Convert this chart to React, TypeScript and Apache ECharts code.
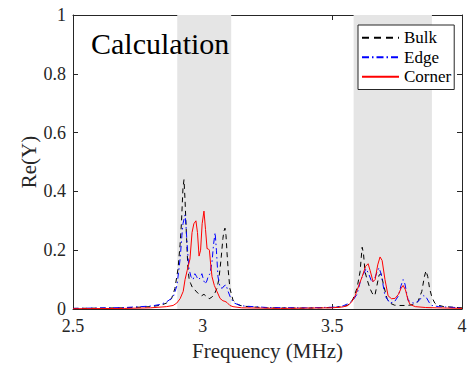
import React, { useEffect, useRef } from "react";
import * as echarts from "echarts";

const FONT = "'Liberation Serif', 'Times New Roman', serif";

const xTicks = [2.5, 3, 3.5, 4];
const bands = [
  [2.902, 3.11],
  [3.582, 3.884],
];

const bulkFreq = [2.5, 2.7, 2.8, 2.84, 2.86, 2.88, 2.893, 2.905, 2.913, 2.918, 2.924, 2.928, 2.932, 2.938, 2.943, 2.948, 2.954, 2.962, 2.97, 2.977, 2.986, 2.996, 3.005, 3.015, 3.025, 3.035, 3.045, 3.055, 3.062, 3.067, 3.072, 3.078, 3.082, 3.086, 3.09, 3.094, 3.098, 3.105, 3.117, 3.13, 3.144, 3.175, 3.25, 3.4, 3.5, 3.54, 3.557, 3.57, 3.58, 3.595, 3.607, 3.612, 3.615, 3.62, 3.626, 3.634, 3.645, 3.653, 3.66, 3.665, 3.672, 3.68, 3.688, 3.698, 3.711, 3.722, 3.74, 3.76, 3.79, 3.81, 3.83, 3.845, 3.855, 3.861, 3.868, 3.875, 3.884, 3.895, 3.904, 3.93, 4.0];
const bulkRe = [0.002, 0.004, 0.008, 0.013, 0.02, 0.035, 0.07, 0.137, 0.22, 0.29, 0.41, 0.44, 0.37, 0.24, 0.14, 0.1, 0.086, 0.07, 0.065, 0.058, 0.05, 0.045, 0.05, 0.042, 0.035, 0.04, 0.05, 0.07, 0.1, 0.137, 0.18, 0.24, 0.265, 0.275, 0.25, 0.19, 0.137, 0.07, 0.03, 0.018, 0.012, 0.008, 0.004, 0.003, 0.005, 0.008, 0.012, 0.02, 0.035, 0.07, 0.127, 0.18, 0.21, 0.19, 0.127, 0.1, 0.07, 0.055, 0.045, 0.05, 0.08, 0.115, 0.12, 0.08, 0.035, 0.02, 0.013, 0.012, 0.012, 0.015, 0.025, 0.06, 0.11, 0.13, 0.11, 0.07, 0.04, 0.02, 0.014, 0.008, 0.004];

const edgeFreq = [2.5, 2.7, 2.8, 2.84, 2.862, 2.886, 2.901, 2.913, 2.92, 2.924, 2.932, 2.936, 2.94, 2.947, 2.955, 2.963, 2.97, 2.977, 2.982, 2.99, 2.997, 3.003, 3.009, 3.016, 3.021, 3.028, 3.036, 3.042, 3.048, 3.053, 3.059, 3.067, 3.075, 3.082, 3.09, 3.098, 3.109, 3.122, 3.136, 3.16, 3.25, 3.4, 3.5, 3.54, 3.565, 3.58, 3.595, 3.607, 3.615, 3.63, 3.64, 3.653, 3.662, 3.672, 3.68, 3.688, 3.703, 3.722, 3.74, 3.755, 3.765, 3.773, 3.78, 3.792, 3.811, 3.83, 3.845, 3.853, 3.862, 3.875, 3.884, 3.91, 4.0];
const edgeRe = [0.002, 0.005, 0.01, 0.016, 0.025, 0.04, 0.08, 0.17, 0.25, 0.29, 0.32, 0.28, 0.22, 0.137, 0.11, 0.1, 0.12, 0.11, 0.1, 0.105, 0.12, 0.1, 0.085, 0.095, 0.11, 0.12, 0.16, 0.22, 0.26, 0.2, 0.11, 0.075, 0.07, 0.078, 0.082, 0.06, 0.035, 0.02, 0.015, 0.01, 0.005, 0.004, 0.006, 0.01, 0.02, 0.03, 0.05, 0.09, 0.11, 0.137, 0.12, 0.09, 0.1, 0.125, 0.14, 0.12, 0.045, 0.02, 0.025, 0.045, 0.08, 0.1, 0.085, 0.03, 0.02, 0.025, 0.04, 0.046, 0.04, 0.02, 0.012, 0.008, 0.004];

const cornerFreq = [2.5, 2.7, 2.8, 2.86, 2.886, 2.9, 2.913, 2.925, 2.932, 2.94, 2.951, 2.959, 2.966, 2.974, 2.98, 2.986, 2.992, 2.998, 3.005, 3.011, 3.017, 3.021, 3.026, 3.031, 3.036, 3.045, 3.055, 3.067, 3.078, 3.086, 3.094, 3.105, 3.117, 3.15, 3.3, 3.5, 3.54, 3.561, 3.575, 3.588, 3.6, 3.615, 3.628, 3.638, 3.646, 3.657, 3.665, 3.675, 3.684, 3.692, 3.703, 3.715, 3.728, 3.742, 3.755, 3.765, 3.773, 3.782, 3.792, 3.8, 3.82, 3.86, 3.9, 4.0];
const cornerRe = [0.001, 0.002, 0.004, 0.008, 0.012, 0.02, 0.035, 0.06, 0.1, 0.13, 0.17, 0.26, 0.29, 0.3, 0.26, 0.18, 0.2, 0.29, 0.333, 0.27, 0.205, 0.205, 0.2, 0.15, 0.11, 0.08, 0.06, 0.036, 0.028, 0.026, 0.022, 0.012, 0.008, 0.004, 0.002, 0.004, 0.007, 0.012, 0.025, 0.045, 0.075, 0.11, 0.145, 0.154, 0.13, 0.093, 0.1, 0.15, 0.177, 0.165, 0.1, 0.045, 0.035, 0.036, 0.05, 0.07, 0.08, 0.065, 0.03, 0.015, 0.008, 0.005, 0.004, 0.002];

const zip = (xs: number[], ys: number[]) => xs.map((x, i) => [x, ys[i]]);

export default function App() {
  const ref = useRef<HTMLDivElement>(null);
  useEffect(() => {
    if (!ref.current) return;
    const chart = echarts.init(ref.current, undefined, { renderer: "svg" });
    const axisColor = "#262626";
    const axisCommon = {
      axisLine: { show: true, onZero: false, lineStyle: { color: axisColor, width: 1 } },
      axisTick: { show: true, inside: true, length: 5, lineStyle: { color: axisColor } },
      splitLine: { show: false },
    };
    chart.setOption({
      animation: false,
      textStyle: { fontFamily: FONT },
      grid: { left: 73, right: 13, top: 15, bottom: 55, containLabel: false },
      legend: {
        show: true,
        orient: "vertical",
        left: 358,
        top: 25,
        data: [
          { name: "Bulk", lineStyle: { type: [7, 5] } },
          { name: "Edge", lineStyle: { type: [7, 3, 1.5, 3] } },
          { name: "Corner" },
        ],
        itemWidth: 37,
        itemHeight: 14,
        itemGap: 0,
        padding: [3, 3, 3, 3],
        borderColor: "#262626",
        borderWidth: 1,
        borderRadius: 0,
        backgroundColor: "#ffffff",
        itemStyle: { opacity: 0 },
        textStyle: { fontFamily: FONT, fontSize: 17, color: "#000", lineHeight: 19.5 },
      },
      xAxis: [
        {
          type: "value",
          min: 2.5,
          max: 4,
          interval: 0.5,
          position: "bottom",
          ...axisCommon,
          axisLabel: {
            color: axisColor,
            fontFamily: FONT,
            fontSize: 18,
            margin: 8,
            customValues: xTicks,
          },
          axisTick: { ...axisCommon.axisTick, customValues: xTicks },
          name: "Frequency (MHz)",
          nameLocation: "middle",
          nameGap: 31,
          nameMoveOverlap: false,
          nameTextStyle: { fontFamily: FONT, fontSize: 21, color: axisColor },
        },
        {
          type: "value",
          min: 2.5,
          max: 4,
          interval: 0.5,
          position: "top",
          ...axisCommon,
          axisLabel: { show: false },
        },
      ],
      yAxis: [
        {
          type: "value",
          min: 0,
          max: 1,
          interval: 0.2,
          position: "left",
          ...axisCommon,
          axisLabel: { color: axisColor, fontFamily: FONT, fontSize: 18, margin: 7 },
          name: "Re(Y)",
          nameLocation: "middle",
          nameGap: 34,
          nameMoveOverlap: false,
          nameTextStyle: { fontFamily: FONT, fontSize: 21, color: axisColor },
        },
        {
          type: "value",
          min: 0,
          max: 1,
          interval: 0.2,
          position: "right",
          ...axisCommon,
          axisLabel: { show: false },
        },
      ],
      graphic: [
        {
          type: "text",
          left: 91,
          top: 28,
          z: 100,
          style: {
            text: "Calculation",
            fontFamily: FONT,
            fontSize: 30,
            fill: "#000",
          },
        },
      ],
      series: [
        {
          type: "line",
          name: "bands",
          data: [],
          z: 1,
          silent: true,
          markArea: {
            silent: true,
            itemStyle: { color: "#e5e5e5" },
            data: bands.map((b) => [{ xAxis: b[0], yAxis: 0 }, { xAxis: b[1], yAxis: 1 }]),
          },
        },
        {
          type: "line",
          name: "Bulk",
          data: zip(bulkFreq, bulkRe),
          symbol: "none",
          z: 3,
          itemStyle: { color: "#000000" },
          lineStyle: { color: "#000000", width: 1, type: [5, 4] },
        },
        {
          type: "line",
          name: "Edge",
          data: zip(edgeFreq, edgeRe),
          symbol: "none",
          z: 4,
          itemStyle: { color: "#0000ff" },
          lineStyle: { color: "#0000ff", width: 1, type: [6, 3, 1.5, 3] },
        },
        {
          type: "line",
          name: "Corner",
          data: zip(cornerFreq, cornerRe),
          symbol: "none",
          z: 5,
          itemStyle: { color: "#ff0000" },
          lineStyle: { color: "#ff0000", width: 1, type: "solid" },
        },
      ],
    });
    return () => chart.dispose();
  }, []);
  return (
    <div
      ref={ref}
      style={{ position: "absolute", left: 0, top: 0, width: 475, height: 366, background: "#fff" }}
    />
  );
}
